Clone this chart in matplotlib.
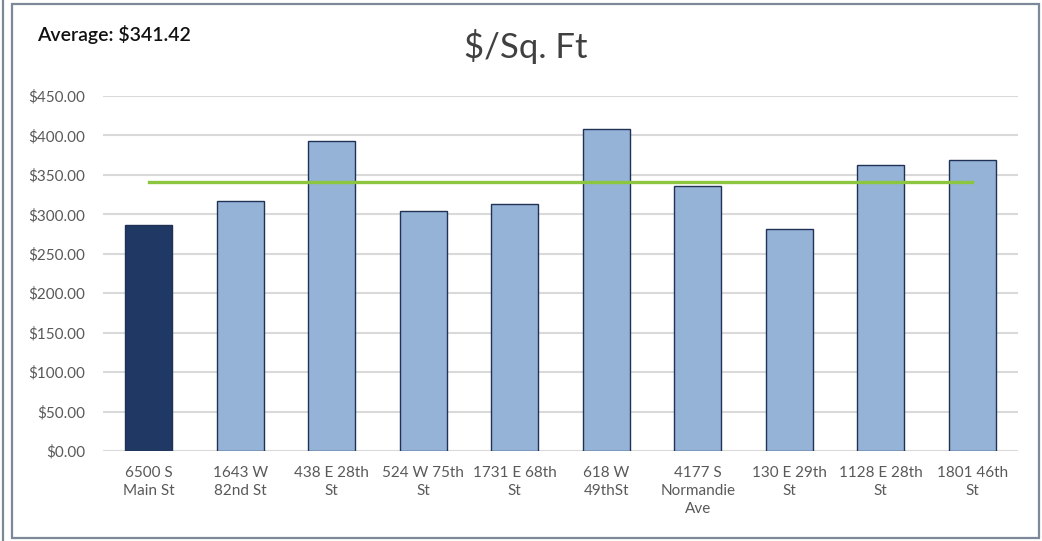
import matplotlib
matplotlib.use("Agg")
import matplotlib.pyplot as plt
from matplotlib.patches import Rectangle
from matplotlib.lines import Line2D
from matplotlib.ticker import FuncFormatter, MultipleLocator

# price per square foot for the subject property and its comps
addresses = [
    "6500 S\nMain St", "1643 W\n82nd St", "438 E 28th\nSt", "524 W 75th\nSt",
    "1731 E 68th\nSt", "618 W\n49thSt", "4177 S\nNormandie\nAve",
    "130 E 29th\nSt", "1128 E 28th\nSt", "1801 46th\nSt",
]
price_sqft = [287, 317, 393, 304, 313, 408, 336, 281, 362, 369]
average = 341.42
subject_index = 0

plt.rcParams["font.family"] = ["Lato", "DejaVu Sans"]

W, H = 1042, 541
fig = plt.figure(figsize=(W / 100, H / 100), dpi=100)
fig.patch.set_facecolor("white")

# slide frame
fig.add_artist(Line2D([3 / W, 3 / W], [0, 1], color="#7d8898", lw=1.6,
                      transform=fig.transFigure))
fig.add_artist(Rectangle((12 / W, 3 / H), 1027 / W, 534 / H, fill=False,
                         edgecolor="#7d8898", lw=1.6,
                         transform=fig.transFigure))

ax = fig.add_axes([103 / W, 1 - 451 / H, 915 / W, (451 - 96) / H])
ax.set_facecolor("none")

x = list(range(len(price_sqft)))
colors = ["#95b3d7"] * len(price_sqft)
colors[subject_index] = "#1f3864"
ax.bar(x, price_sqft, width=0.51, color=colors, edgecolor="#1f3256",
       linewidth=1.0, zorder=3)
ax.plot(x, [average] * len(x), color="#8cc63f", lw=2.4, zorder=4)

ax.set_xlim(-0.5, len(x) - 0.5)
ax.set_ylim(0, 450)
ax.yaxis.set_major_locator(MultipleLocator(50))
ax.yaxis.set_major_formatter(FuncFormatter(lambda v, _: f"${v:,.2f}"))
ax.grid(axis="y", color="#d9d9d9", lw=1.5, zorder=0)
ax.set_xticks(x)
ax.set_xticklabels(addresses, fontsize=11, color="#595959",
                   linespacing=1.35)
ax.tick_params(axis="both", length=0, labelsize=11, labelcolor="#595959")
ax.tick_params(axis="x", pad=11)
ax.tick_params(axis="y", pad=13)
for s in ax.spines.values():
    s.set_visible(False)

fig.text(526 / W, 1 - 46 / H, "$/Sq. Ft", ha="center", va="center",
         fontsize=25, color="#404040")
fig.text(37 / W, 1 - 35 / H, f"Average: ${average:,.2f}", ha="left",
         va="center", fontsize=14, color="#111111", fontweight="semibold")

fig.savefig("out.png", dpi=100, facecolor="white")
